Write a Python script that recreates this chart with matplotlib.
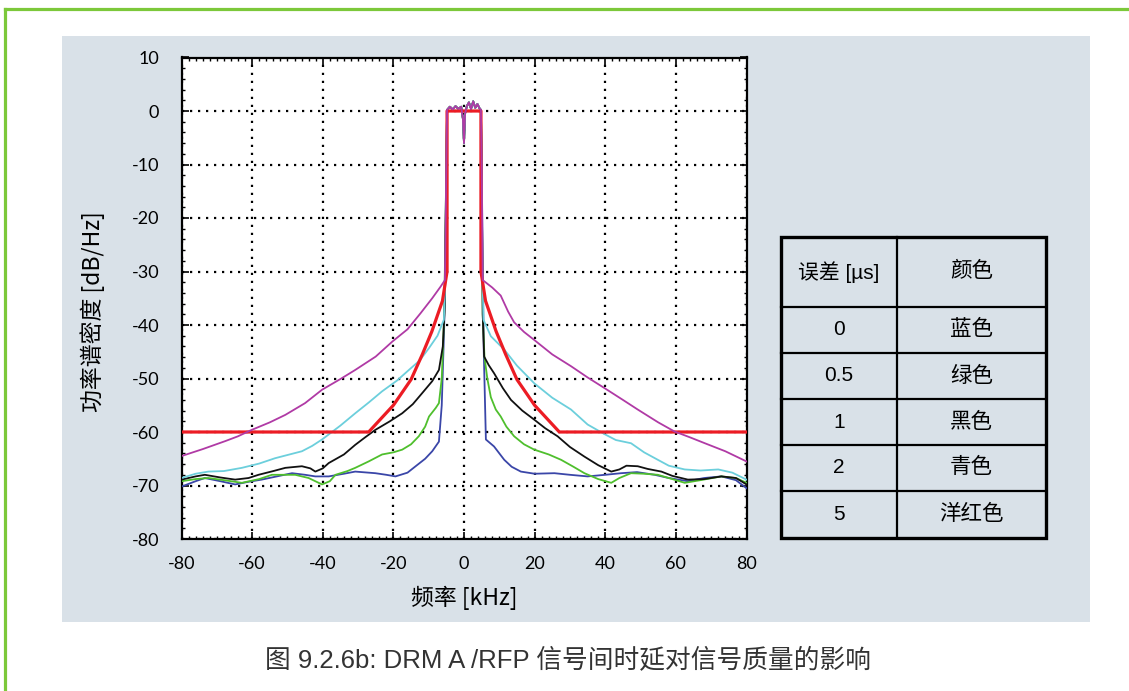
import matplotlib.pyplot as plt
from matplotlib.patches import Rectangle
from matplotlib.lines import Line2D
from matplotlib.ticker import MultipleLocator

plt.rcParams['font.family'] = ['Noto Sans CJK SC', 'DejaVu Sans']
plt.rcParams['axes.unicode_minus'] = False

W, H = 1129, 691

# in-band part shared by all curves (the top of the DRM signal)
band_x = [-4.8, -4.0, -3.2, -2.4, -1.6, -0.8, -0.3, 0.0, 0.3, 0.8, 1.4, 2.0, 2.6, 3.2, 3.8, 4.4, 4.8]
band_y = [0.2, 0.8, 0.3, 0.9, 0.4, 0.8, -1.5, -6.0, -0.5, 0.9, 1.6, 0.4, 1.8, 0.6, 1.3, 0.5, 0.2]

# 0 us - blue
blue_lx = [-80, -76, -73.4, -69, -64.8, -61, -57.3, -53, -48.7, -45, -42.1, -38.3, -34, -30.8, -27, -25.1, -22, -19.4, -16, -13.7, -11, -9.0, -7.1, -6.3, -5.6, -5.0]
blue_ly = [-70.2, -69.2, -68.6, -69.2, -69.8, -69.3, -68.9, -68.3, -67.7, -68.0, -68.3, -68.3, -67.8, -67.4, -67.6, -67.7, -68.0, -68.3, -67.6, -66.4, -65.0, -63.6, -61.8, -55, -40, -10]
blue_rx = [5.0, 5.6, 6.2, 8.5, 11.4, 13.5, 16.1, 20, 25.6, 30, 35.0, 40, 44.5, 49, 54.0, 58, 63.4, 68, 72.9, 77, 80]
blue_ry = [-10, -45, -61.4, -62.7, -65.2, -66.5, -67.4, -67.8, -67.7, -68.0, -68.3, -68.0, -67.7, -67.5, -68.0, -68.6, -69.2, -68.6, -68.3, -69.0, -70.5]

# 0.5 us - green
green_lx = [-80, -76, -72.4, -68, -62.9, -58, -54.4, -47.8, -44.0, -40.2, -38, -36.4, -33, -30.8, -27, -23.2, -20, -17.5, -15, -12.8, -11, -9.9, -8, -7.1, -6.3, -5.6, -5.0]
green_ly = [-69.2, -68.8, -68.6, -69.0, -69.5, -68.8, -68.0, -68.0, -68.6, -69.8, -69.2, -68.0, -67.3, -66.7, -65.5, -64.2, -63.8, -63.3, -62.3, -60.8, -59.0, -57.1, -55.5, -54.6, -50, -38, -10]
green_rx = [5.0, 5.3, 5.8, 6.6, 7.6, 9, 10.4, 12, 14.2, 17, 19.9, 24, 27.5, 31, 34.1, 38, 41.7, 44, 47.3, 51, 54.9, 59, 62.5, 67, 72.9, 77, 80]
green_ry = [-10, -38, -46, -50, -53.5, -55.8, -57.1, -59, -60.8, -62.3, -63.3, -64.2, -65.2, -66.5, -67.7, -68.8, -69.5, -68.6, -67.7, -67.8, -68.0, -68.8, -69.5, -69.0, -68.3, -68.6, -69.5]

# 1 us - black
black_lx = [-80, -76, -73.4, -69, -64.8, -61, -58.2, -54, -50.6, -45.9, -43.5, -42.1, -40, -38.3, -34, -30.8, -28, -25.1, -21, -17.5, -14.5, -11.8, -9, -7.1, -6.0, -5.4, -5.0]
black_ly = [-68.9, -68.3, -68.0, -68.5, -68.9, -68.6, -68.0, -67.3, -66.7, -66.4, -66.8, -67.4, -66.8, -65.8, -64.2, -62.4, -61.0, -59.6, -58.0, -56.5, -54.8, -52.7, -50.5, -48.4, -44, -36, -10]
black_rx = [5.0, 5.3, 5.7, 7, 8.5, 11, 13.3, 16.5, 19.9, 23, 26.5, 30, 34.1, 38, 41.7, 44, 46, 49.2, 52, 55.9, 59, 63.4, 68, 72.9, 77, 80]
black_ry = [-10, -38, -45.9, -47.5, -49.0, -51.8, -54.0, -56.0, -57.7, -59.3, -60.8, -62.8, -64.6, -66.2, -67.4, -67.0, -66.3, -66.4, -66.9, -67.4, -68.2, -68.9, -68.8, -68.3, -68.6, -69.8]

# 2 us - cyan
cyan_lx = [-80, -76, -72.4, -68, -62.9, -58, -53.5, -50, -45.9, -43, -40.2, -35, -30.8, -27, -23.2, -19, -15.6, -12.5, -9.9, -7.5, -5.7, -5.2, -5.0]
cyan_ly = [-68.6, -67.8, -67.4, -67.3, -66.7, -65.9, -64.9, -64.3, -63.6, -62.6, -61.4, -58.8, -56.5, -54.5, -52.4, -50.4, -48.4, -46.6, -44.3, -42, -39.0, -30, -10]
cyan_rx = [5.0, 5.2, 5.5, 7.6, 11.4, 15, 19.9, 25, 30.3, 35, 39.8, 43, 47.3, 51, 54.9, 58, 62.5, 67, 72.0, 76, 80]
cyan_ry = [-10, -30, -39.0, -42.1, -44.6, -47.6, -50.9, -53.6, -55.8, -58.6, -60.4, -61.5, -62.1, -63.8, -65.2, -66.3, -67.0, -67.2, -67.0, -67.6, -68.9]

# 5 us - magenta
mag_lx = [-80, -74, -67.6, -64, -60.1, -55, -50.6, -45, -40.2, -35, -30.8, -25, -20.3, -16, -12.3, -9.0, -6.6, -5.4, -5.0]
mag_ly = [-64.5, -63.2, -61.7, -60.8, -59.6, -58.2, -56.8, -54.6, -52.1, -50.1, -48.4, -45.9, -43.1, -40.8, -37.8, -35.0, -32.8, -31.6, -10]
mag_rx = [5.0, 5.3, 8, 10.4, 12.5, 14.2, 17, 19.9, 25, 30.3, 35, 39.8, 45, 49.2, 55, 59.6, 64, 68.2, 74, 80]
mag_ry = [-10, -31.6, -33.0, -34.5, -37.5, -39.5, -41.3, -42.8, -45.5, -47.7, -49.8, -51.8, -54.0, -55.8, -58.2, -59.9, -61.0, -62.1, -63.6, -65.5]

# spectrum mask (red), right half, mirrored for the left
mask_x = [4.8, 4.8, 6.1, 9.1, 11.8, 15.0, 20.0, 27.0, 80]
mask_y = [0, -30, -35.5, -41.2, -45.5, -50.2, -55.0, -60, -60]

yticks = [10, 0, -10, -20, -30, -40, -50, -60, -70, -80]
ytick_labels = ['10', '0', '-10', '-20', '-30', '-40', '-50', '-60', '-70', '-80']
xticks = [-80, -60, -40, -20, 0, 20, 40, 60, 80]
xtick_labels = ['-80', '-60', '-40', '-20', '0', '20', '40', '60', '80']

table_head = ['误差 [µs]', '颜色']
table_err = ['0', '0.5', '1', '2', '5']
table_color = ['蓝色', '绿色', '黑色', '青色', '洋红色']


def fx(px):
    return px / W


def fy(py):
    return 1 - py / H


fig = plt.figure(figsize=(W / 100, H / 100), dpi=100)
fig.patch.set_facecolor('white')

# grey-blue panel and the green page frame
fig.add_artist(Rectangle((fx(62), fy(622)), 1028 / W, 586 / H, transform=fig.transFigure,
                         facecolor='#d9e1e8', edgecolor='none', zorder=0))
fig.add_artist(Line2D([fx(5), fx(5)], [0, fy(8.5)], color='#7cc83a', lw=2.3))
fig.add_artist(Line2D([fx(5), 1], [fy(8.5), fy(8.5)], color='#7cc83a', lw=2.3))

ax = fig.add_axes([fx(181.5), fy(539), 565 / W, 481.5 / H])
ax.set_facecolor('white')

series = [
    (blue_lx, blue_ly, blue_rx, blue_ry, '#3a46a8'),
    (green_lx, green_ly, green_rx, green_ry, '#4fbf2d'),
    (black_lx, black_ly, black_rx, black_ry, '#111111'),
    (cyan_lx, cyan_ly, cyan_rx, cyan_ry, '#6ccfdc'),
]
for lx, ly, rx, ry, c in series:
    ax.plot(lx + band_x + rx, ly + band_y + ry, color=c, lw=1.3, zorder=3)

mask_full_x = [-v for v in mask_x[::-1]] + mask_x
mask_full_y = mask_y[::-1] + mask_y
ax.plot(mask_full_x, mask_full_y, color='#ec1c24', lw=2.3, zorder=4)

ax.plot(mag_lx + band_x + mag_rx, mag_ly + band_y + mag_ry, color='#b03aa5', lw=1.3, zorder=5)

ax.set_xlim(-80, 80)
ax.set_ylim(-80, 10)
ax.set_xticks(xticks)
ax.set_xticklabels(xtick_labels)
ax.set_yticks(yticks)
ax.set_yticklabels(ytick_labels)
ax.xaxis.set_minor_locator(MultipleLocator(2))
ax.yaxis.set_minor_locator(MultipleLocator(2))
ax.tick_params(which='both', direction='in', top=True, right=True, color='black')
ax.tick_params(which='major', length=5, width=1.2)
ax.tick_params(which='minor', length=2.5, width=1.0)
ax.tick_params(axis='y', pad=16)
ax.tick_params(axis='x', pad=12)
for lab in ax.get_xticklabels() + ax.get_yticklabels():
    lab.set_family('Lato')
    lab.set_fontsize(13)
for sp in ax.spines.values():
    sp.set_linewidth(1.6)
    sp.set_color('black')
ax.grid(True, which='major', color='black', linestyle=(0, (1, 2.6)), linewidth=1.6, zorder=1)
ax.set_axisbelow(True)

fig.text(fx(93), fy(311.5), '功率谱密度 [dB/Hz]', rotation=90, ha='center', va='center', fontsize=16.5)
fig.text(fx(464), fy(598), '频率 [kHz]', ha='center', va='center', fontsize=16.5)

# colour key table
tw, th = 265.3, 301.6
tab = fig.add_axes([fx(780.7), fy(538.3), tw / W, th / H])
tab.set_xlim(0, tw)
tab.set_ylim(th, 0)
tab.axis('off')
col_split = 116.3
rows = [0, 70, 116, 162.6, 208.3, 254.3, th]
tab.add_patch(Rectangle((0, 0), tw, th, facecolor='none', edgecolor='black', lw=2.4, clip_on=False))
tab.plot([col_split, col_split], [0, th], color='black', lw=1.6, clip_on=False)
for r in rows[1:-1]:
    tab.plot([0, tw], [r, r], color='black', lw=1.6, clip_on=False)

cell_font = ['Liberation Sans', 'Noto Sans CJK SC']
tab.text(col_split / 2, rows[1] / 2, table_head[0], ha='center', va='center', fontsize=15, family=cell_font)
tab.text((col_split + tw) / 2, rows[1] / 2, table_head[1], ha='center', va='center', fontsize=15.5, family=cell_font)
for i, (e, c) in enumerate(zip(table_err, table_color)):
    yc = (rows[i + 1] + rows[i + 2]) / 2
    tab.text(col_split / 2, yc, e, ha='center', va='center', fontsize=15, family=cell_font)
    tab.text((col_split + tw) / 2, yc, c, ha='center', va='center', fontsize=15.5, family=cell_font)

fig.text(fx(568), fy(660), '图 9.2.6b: DRM A /RFP 信号间时延对信号质量的影响',
         ha='center', va='center', fontsize=18.5, color='#333333', family=cell_font)

fig.savefig('out.png', dpi=100)
